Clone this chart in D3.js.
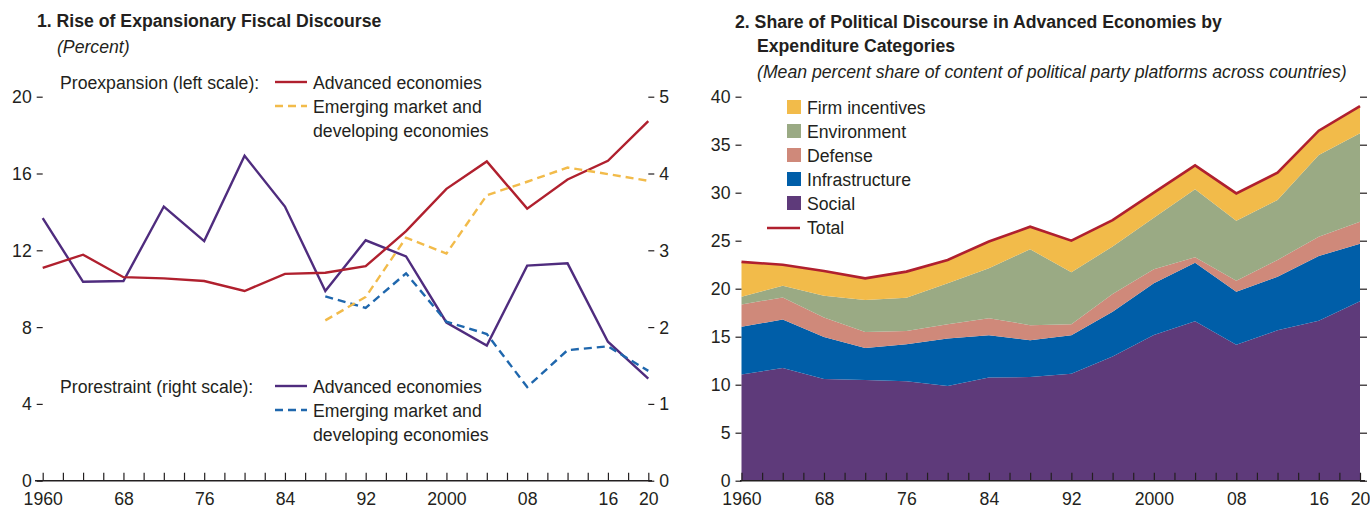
<!DOCTYPE html>
<html><head><meta charset="utf-8">
<script src="https://cdn.jsdelivr.net/npm/d3@7"></script>
<style>
body{margin:0;background:#fff;}
svg text{font-family:"Liberation Sans",Arial,Helvetica,sans-serif;fill:#231f20;}
</style></head><body>
<svg id="c" width="1370" height="508"></svg>
<script>
// ---------- data ----------
const years = [1960,1964,1968,1972,1976,1980,1984,1988,1992,1996,2000,2004,2008,2012,2016,2020];
// Panel 1 (percent); left scale: proexpansion, right scale: prorestraint
const proexpAE   = [11.08,11.77,10.6,10.54,10.4,9.88,10.77,10.83,11.17,13.0,15.2,16.63,14.17,15.69,16.66,18.73];
const proexpEMDE = [null,null,null,null,null,null,null,8.35,9.57,12.66,11.83,14.87,15.57,16.31,15.97,15.62];
const prorestAE   = [3.42,2.59,2.6,3.57,3.12,4.23,3.57,2.47,3.13,2.92,2.06,1.76,2.8,2.83,1.81,1.33];
const prorestEMDE = [null,null,null,null,null,null,null,2.4,2.25,2.7,2.07,1.91,1.22,1.7,1.75,1.43];
const leftTicks = [0,4,8,12,16,20];
const rightTicks = [0,1,2,3,4,5];
// Panel 2 (mean percent share)
const social         = [11.06,11.75,10.6,10.5,10.35,9.86,10.75,10.8,11.14,12.95,15.17,16.6,14.15,15.66,16.65,18.7];
const infrastructure = [4.97,5.04,4.38,3.33,3.87,4.95,4.41,3.83,4.02,4.65,5.39,6.1,5.54,5.59,6.76,5.97];
const defense        = [2.33,2.3,2.02,1.67,1.38,1.49,1.77,1.57,1.14,1.84,1.46,0.58,1.15,1.75,1.99,2.31];
const environment    = [0.8,1.22,2.27,3.32,3.46,4.26,5.2,7.91,5.41,4.96,5.38,7.07,6.24,6.24,8.52,9.2];
const firmIncentives = [3.63,2.19,2.58,2.26,2.72,2.44,2.78,2.35,3.29,2.75,2.6,2.5,2.85,2.84,2.54,2.85];
const shareTicks = [0,5,10,15,20,25,30,35,40];
const yearLabels = [1960,1968,1976,1984,1992,2000,2008,2016,2020];

const C = {red:"#b0202e", yellow:"#f2bb4a", purple:"#4f2c7e", blue:"#1f67ad",
  firm:"#f2bb4a", env:"#9aaa84", def:"#cf897a", infra:"#005ea8", social:"#5e3a7a", total:"#b0202e", ink:"#231f20"};
const FS = 19;      // font size
const SX = 0.93;    // horizontal condensing of the sans font
const svg = d3.select("#c");
const fmtYear = d => (d===1960||d===2000) ? String(d) : String(d).slice(2);

function styleAxis(g){
  g.select(".domain").remove();
  g.attr("font-family",null).attr("font-size",null);
  g.selectAll("line").attr("stroke",C.ink).attr("stroke-width",1.2);
  g.selectAll("text").attr("font-size",FS).attr("fill",C.ink);
}
function xAxes(x, y0, xa, xb){
  const g = svg.append("g");
  g.append("g").attr("transform",`translate(0,${y0})`)
    .call(d3.axisBottom(x).tickValues(d3.range(1960,2021,2)).tickSize(-8).tickFormat(""))
    .call(styleAxis);
  g.append("g").attr("transform",`translate(0,${y0})`)
    .call(d3.axisBottom(x).tickValues(yearLabels).tickSize(0).tickPadding(11).tickFormat(fmtYear))
    .call(styleAxis);
  g.append("line").attr("x1",xa).attr("x2",xb).attr("y1",y0).attr("y2",y0)
    .attr("stroke",C.ink).attr("stroke-width",1.5);
}

// ---------- Panel 1 ----------
const x1 = d3.scaleLinear().domain([1960,2020]).range([42.7,648.3]);
const yL = d3.scaleLinear().domain([0,20]).range([480.7,96.7]);
const yR = d3.scaleLinear().domain([0,5]).range([480.7,96.7]);

svg.append("text").attr("x",37).attr("y",27).attr("font-size",FS).attr("font-weight","bold")
  .text("1. Rise of Expansionary Fiscal Discourse");
svg.append("text").attr("x",57).attr("y",53).attr("font-size",FS).attr("font-style","italic")
  .text("(Percent)");

svg.append("g").attr("transform","translate(42.7,0)")
  .call(d3.axisLeft(yL).tickValues(leftTicks).tickSize(6).tickPadding(5).tickFormat(d3.format("d"))).call(styleAxis);
svg.append("g").attr("transform","translate(648.3,0)")
  .call(d3.axisRight(yR).tickValues(rightTicks).tickSize(6).tickPadding(5).tickFormat(d3.format("d"))).call(styleAxis);
xAxes(x1, 480.7, 35, 652);

const lineL = d3.line().defined(d=>d[1]!=null).x(d=>x1(d[0])).y(d=>yL(d[1]));
const lineR = d3.line().defined(d=>d[1]!=null).x(d=>x1(d[0])).y(d=>yR(d[1]));
const zip = arr => years.map((y,i)=>[y,arr[i]]);

const series1 = [
  {d:prorestAE, line:lineR, color:C.purple, dash:null},
  {d:prorestEMDE, line:lineR, color:C.blue, dash:"8,5"},
  {d:proexpAE, line:lineL, color:C.red, dash:null},
  {d:proexpEMDE, line:lineL, color:C.yellow, dash:"8,5"}
];
series1.forEach(s=>{
  svg.append("path").attr("d",s.line(zip(s.d))).attr("fill","none")
    .attr("stroke",s.color).attr("stroke-width",2.4).attr("stroke-dasharray",s.dash);
});

// legends panel 1
function legend1(y, label, c1, d1, c2, d2){
  svg.append("text").attr("x",60).attr("y",y+7).attr("font-size",FS).text(label);
  svg.append("line").attr("x1",275).attr("x2",307).attr("y1",y).attr("y2",y)
    .attr("stroke",c1).attr("stroke-width",2.4).attr("stroke-dasharray",d1);
  svg.append("text").attr("x",313).attr("y",y+7).attr("font-size",FS).text("Advanced economies");
  svg.append("line").attr("x1",275).attr("x2",307).attr("y1",y+24).attr("y2",y+24)
    .attr("stroke",c2).attr("stroke-width",2.4).attr("stroke-dasharray",d2);
  svg.append("text").attr("x",313).attr("y",y+31).attr("font-size",FS).text("Emerging market and");
  svg.append("text").attr("x",313).attr("y",y+55).attr("font-size",FS).text("developing economies");
}
legend1(82, "Proexpansion (left scale):", C.red, null, C.yellow, "8,5");
legend1(386, "Prorestraint (right scale):", C.purple, null, C.blue, "8,5");

// ---------- Panel 2 ----------
const x2 = d3.scaleLinear().domain([1960,2020]).range([741.5,1360]);
const y2 = d3.scaleLinear().domain([0,40]).range([480.7,96.7]);

svg.append("text").attr("x",735).attr("y",28).attr("font-size",FS).attr("font-weight","bold")
  .text("2. Share of Political Discourse in Advanced Economies by");
svg.append("text").attr("x",757).attr("y",52).attr("font-size",FS).attr("font-weight","bold")
  .text("Expenditure Categories");
svg.append("text").attr("x",757).attr("y",78).attr("font-size",FS).attr("font-style","italic")
  .text("(Mean percent share of content of political party platforms across countries)");

const rows = years.map((yr,i)=>({year:yr, social:social[i], infrastructure:infrastructure[i],
  defense:defense[i], environment:environment[i], firm:firmIncentives[i]}));
const keys = ["social","infrastructure","defense","environment","firm"];
const colors = {social:C.social, infrastructure:C.infra, defense:C.def, environment:C.env, firm:C.firm};
const stacked = d3.stack().keys(keys)(rows);
const area = d3.area().x(d=>x2(d.data.year)).y0(d=>y2(d[0])).y1(d=>y2(d[1]));
svg.append("g").selectAll("path").data(stacked).join("path")
  .attr("d",area).attr("fill",d=>colors[d.key]);
const topLayer = stacked[stacked.length-1];
svg.append("path").attr("d", d3.line().x(d=>x2(d.data.year)).y(d=>y2(d[1]))(topLayer))
  .attr("fill","none").attr("stroke",C.total).attr("stroke-width",2.6);

svg.append("g").attr("transform","translate(741.5,0)")
  .call(d3.axisLeft(y2).tickValues(shareTicks).tickSize(6).tickPadding(5).tickFormat(d3.format("d"))).call(styleAxis);
svg.append("g").attr("transform","translate(1360,0)")
  .call(d3.axisRight(y2).tickValues(shareTicks).tickSize(7).tickFormat("")).call(styleAxis);
xAxes(x2, 480.7, 740, 1365);

// legend panel 2
const leg2 = [["Firm incentives",C.firm],["Environment",C.env],["Defense",C.def],["Infrastructure",C.infra],["Social",C.social]];
leg2.forEach((d,i)=>{
  const cy = 107 + i*24;
  svg.append("rect").attr("x",787).attr("y",cy-7).attr("width",14).attr("height",14).attr("fill",d[1]);
  svg.append("text").attr("x",807).attr("y",cy+7).attr("font-size",FS).text(d[0]);
});
svg.append("line").attr("x1",767).attr("x2",800).attr("y1",228).attr("y2",228)
  .attr("stroke",C.total).attr("stroke-width",2.4);
svg.append("text").attr("x",807).attr("y",234).attr("font-size",FS).text("Total");

// condense every text horizontally about its anchor point
svg.selectAll("text").each(function(){
  const t = d3.select(this);
  const ax = +t.attr("x") || 0;
  t.attr("transform", `translate(${ax},0) scale(${SX},1) translate(${-ax},0)`);
});
</script>
</body></html>
